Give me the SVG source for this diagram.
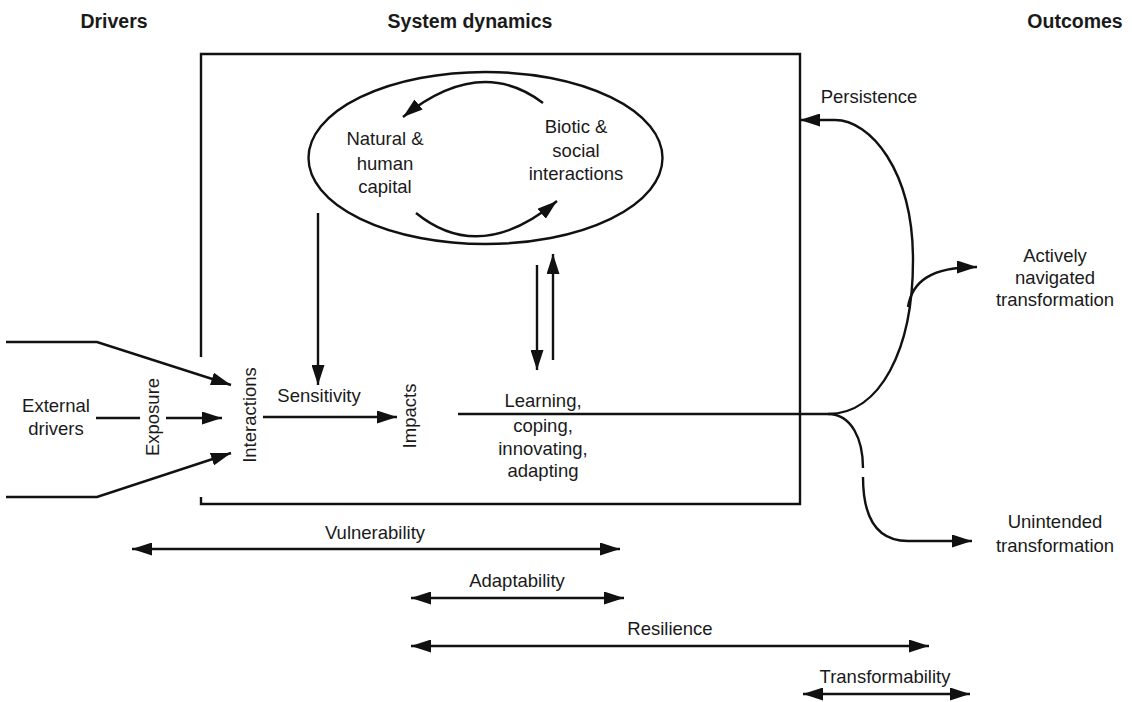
<svg xmlns="http://www.w3.org/2000/svg" width="1132" height="702" viewBox="0 0 1132 702">
<style>
text{font-family:"Liberation Sans",Arial,sans-serif;font-size:18.5px;fill:#1a1a1a}
.t{font-weight:bold;font-size:19.5px}
.c{text-anchor:middle}
.ln{fill:none;stroke:#111;stroke-width:2.4}
.ar{marker-end:url(#ah)}
.dbl{marker-start:url(#ah);marker-end:url(#ah)}
</style>
<defs>
<marker id="ah" viewBox="0 0 20 13" refX="20" refY="6.5" markerWidth="20" markerHeight="13" orient="auto-start-reverse" markerUnits="userSpaceOnUse"><path d="M0,0 L20,6.5 L0,13 z" fill="#111"/></marker>
</defs>
<rect width="1132" height="702" fill="#fff"/>
<g id="headers">
<text class="t c" x="114" y="28">Drivers</text>
<text class="t c" x="470" y="28">System dynamics</text>
<text class="t c" x="1075" y="28">Outcomes</text>
</g>
<g id="system-box"><path class="ln" d="M201,357 V54 H800 V504 H201 V497"/></g>
<g id="ellipse"><ellipse class="ln" cx="485.5" cy="158" rx="177" ry="86"/></g>
<g id="natural-capital"><text class="c" x="385" y="145">Natural &amp;</text><text class="c" x="385" y="170">human</text><text class="c" x="385" y="193">capital</text></g>
<g id="biotic-social"><text class="c" x="576" y="133">Biotic &amp;</text><text class="c" x="576" y="157">social</text><text class="c" x="576" y="180">interactions</text></g>
<g id="external-drivers"><text class="c" x="56" y="412">External</text><text class="c" x="56" y="435">drivers</text></g>
<g id="exposure"><text class="c" transform="translate(159,417) rotate(-90)">Exposure</text></g>
<g id="interactions"><text class="c" transform="translate(256,415) rotate(-90)">Interactions</text></g>
<g id="sensitivity"><text class="c" x="319" y="402">Sensitivity</text></g>
<g id="impacts"><text class="c" transform="translate(416,416) rotate(-90)">Impacts</text></g>
<g id="learning"><text class="c" x="543" y="407">Learning,</text><text class="c" x="543" y="432">coping,</text><text class="c" x="543" y="455">innovating,</text><text class="c" x="543" y="477">adapting</text></g>
<g id="persistence"><text class="c" x="869" y="103">Persistence</text></g>
<g id="actively"><text class="c" x="1055" y="262">Actively</text><text class="c" x="1055" y="284">navigated</text><text class="c" x="1055" y="306">transformation</text></g>
<g id="unintended"><text class="c" x="1055" y="528">Unintended</text><text class="c" x="1055" y="552">transformation</text></g>
<g id="measures">
<text class="c" x="375" y="539">Vulnerability</text>
<text class="c" x="517" y="587">Adaptability</text>
<text class="c" x="670" y="635">Resilience</text>
<text class="c" x="885" y="683">Transformability</text>
</g>
<g id="connectors">
<path class="ln ar" d="M543,103 Q480,55 403,117"/>
<path class="ln ar" d="M416,213 Q480,265 557,201"/>
<path class="ln ar" d="M318,213 V385"/>
<path class="ln ar" d="M537,265 V370"/>
<path class="ln ar" d="M553,360 V254"/>
<path class="ln ar" d="M6,342 H97 L231,385"/>
<path class="ln" d="M96,418 H140"/>
<path class="ln ar" d="M166,418 H222"/>
<path class="ln ar" d="M6,497 H97 L231,453"/>
<path class="ln ar" d="M263,417 H397"/>
<path class="ln" d="M458,414 H828"/>
<path class="ln ar" d="M828,414 C880,414 913,350 913,260 C913,170 870,120 835,120 H800"/>
<path class="ln ar" d="M908,307 C912,282 930,267 977,267"/>
<path class="ln" d="M828,414 C852,414 863,440 863,468"/>
<path class="ln ar" d="M863,477 C863,520 878,541 908,541 H972"/>
<path class="ln dbl" d="M132,549 H620"/>
<path class="ln dbl" d="M411,598 H624"/>
<path class="ln dbl" d="M411,646 H929"/>
<path class="ln dbl" d="M803,694 H970"/>
</g>
</svg>
